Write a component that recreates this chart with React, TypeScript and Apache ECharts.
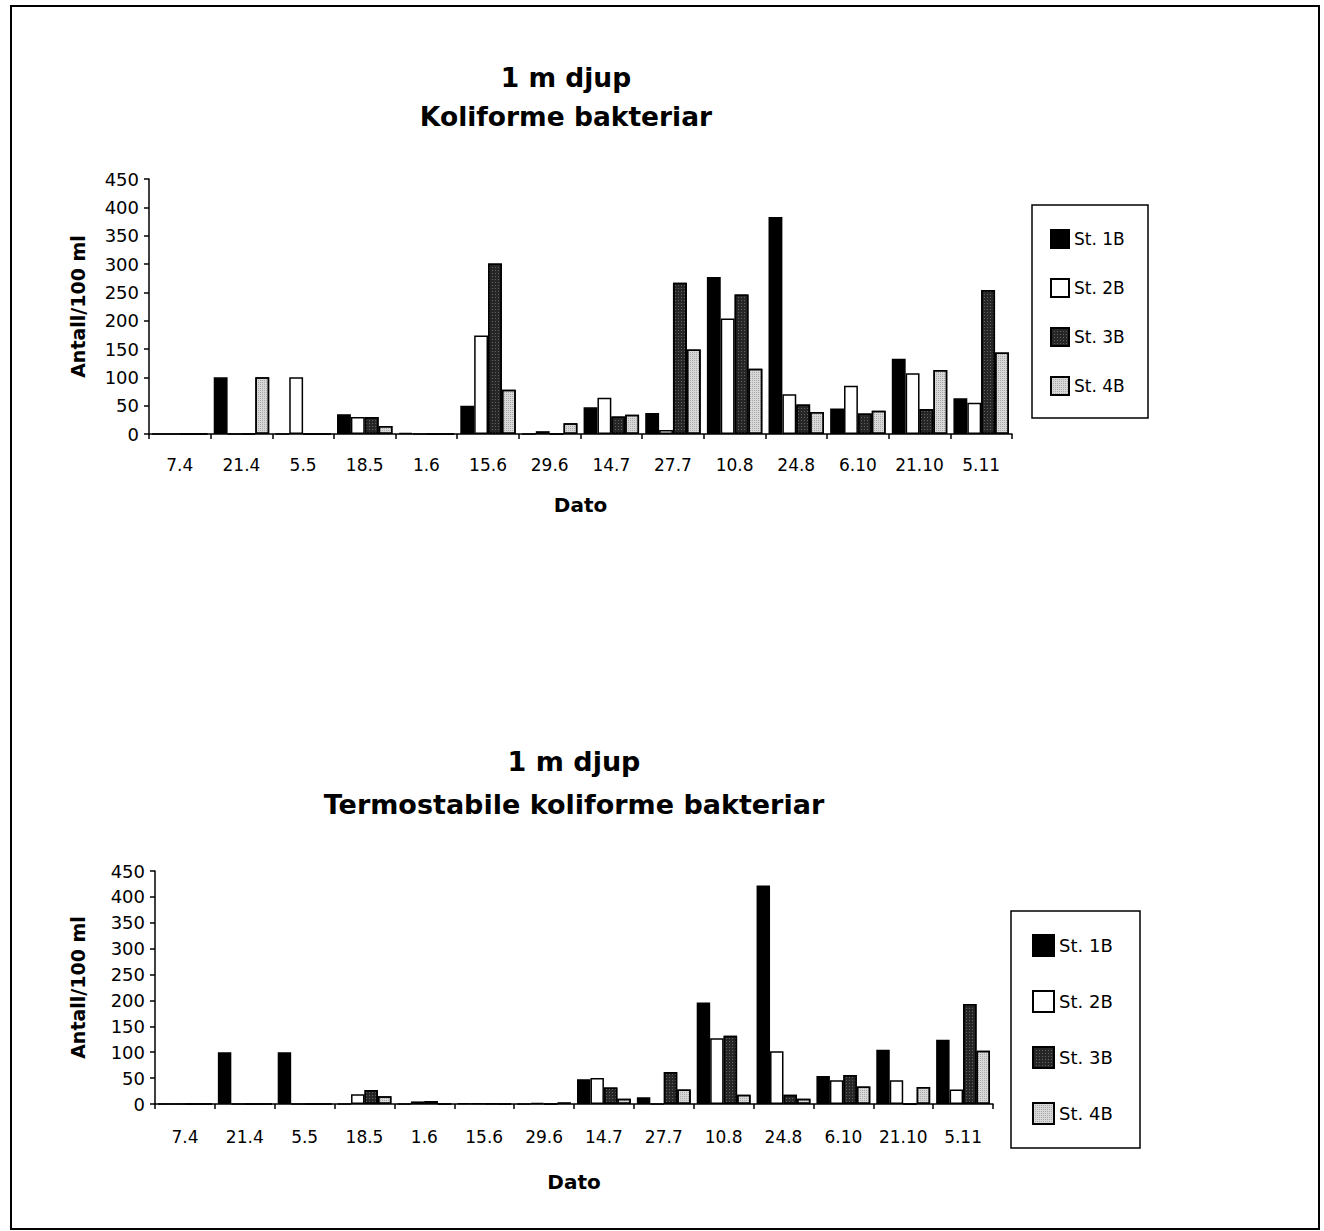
import React, { useEffect, useRef } from "react";
import * as echarts from "echarts";

const categories = ["7.4", "21.4", "5.5", "18.5", "1.6", "15.6", "29.6", "14.7", "27.7", "10.8", "24.8", "6.10", "21.10", "5.11"];
const seriesNames = ["St. 1B", "St. 2B", "St. 3B", "St. 4B"];
const yTicks = [0, 50, 100, 150, 200, 250, 300, 350, 400, 450];

// Koliforme bakteriar (1 m djup)
const koli1B = [0, 100, 0, 35, 2, 50, 0, 47, 37, 277, 383, 45, 133, 63];
const koli2B = [0, 0, 100, 30, 0, 174, 5, 64, 7, 204, 70, 85, 107, 55];
const koli3B = [0, 0, 0, 30, 0, 301, 0, 31, 267, 246, 52, 36, 44, 254];
const koli4B = [0, 100, 0, 14, 0, 78, 19, 34, 149, 115, 39, 41, 113, 144];

// Termostabile koliforme bakteriar (1 m djup)
const termo1B = [0, 100, 100, 0, 0, 1, 0, 48, 13, 196, 422, 54, 105, 124];
const termo2B = [0, 0, 0, 19, 5, 1, 2, 50, 0, 127, 102, 46, 46, 28];
const termo3B = [0, 0, 0, 27, 6, 1, 0, 32, 62, 132, 18, 56, 0, 193];
const termo4B = [0, 0, 0, 15, 0, 0, 3, 10, 28, 18, 10, 34, 33, 103];

const fills = ["#000000", "#ffffff", "#262626", "#d8d8d8"];
const decals: any[] = [
  null,
  null,
  { symbol: "rect", symbolSize: 1, color: "rgba(255,255,255,0.28)", dashArrayX: [1, 2], dashArrayY: [1, 2] },
  { symbol: "rect", symbolSize: 1, color: "rgba(0,0,0,0.22)", dashArrayX: [1, 1], dashArrayY: [1, 1] },
];
const FONT = "DejaVu Sans";

export default function App() {
  const ref = useRef<HTMLDivElement>(null);
  useEffect(() => {
    if (!ref.current) return;
    const chart = echarts.init(ref.current, null, { renderer: "svg" });
    const makeSeries = (data: number[][], gi: number) =>
      data.map((d, i) => {
        const itemStyle: any = { color: fills[i], borderColor: "#000", borderWidth: 1.5 };
        if (decals[i]) itemStyle.decal = decals[i];
        return {
          type: "bar",
          name: seriesNames[i],
          xAxisIndex: gi,
          yAxisIndex: gi,
          data: d,
          barGap: "0%",
          barCategoryGap: "10%",
          itemStyle,
        };
      });
    const xAxisBase = (gi: number, nameGap: number, margin: number) => ({
      type: "category",
      gridIndex: gi,
      data: categories,
      name: "Dato",
      nameLocation: "middle",
      nameGap,
      nameTextStyle: { fontFamily: FONT, fontWeight: "bold", fontSize: 20, color: "#000" },
      axisLine: { lineStyle: { color: "#000", width: 1.5 } },
      axisTick: { show: true, interval: 0, length: 5, lineStyle: { color: "#000", width: 1.5 } },
      axisLabel: { interval: 0, fontFamily: FONT, fontSize: 17, color: "#000", margin },
      splitLine: { show: false },
    });
    const yAxisBase = (gi: number, nameGap: number) => ({
      type: "value",
      gridIndex: gi,
      min: yTicks[0],
      max: yTicks[yTicks.length - 1],
      interval: yTicks[1] - yTicks[0],
      name: "Antall/100 ml",
      nameLocation: "middle",
      nameRotate: 90,
      nameGap,
      nameTextStyle: { fontFamily: FONT, fontWeight: "bold", fontSize: 19, color: "#000" },
      axisLine: { show: true, lineStyle: { color: "#000", width: 1.5 } },
      axisTick: { show: true, length: 5, lineStyle: { color: "#000", width: 1.5 } },
      axisLabel: { fontFamily: FONT, fontSize: 18, color: "#000", margin: 10 },
      splitLine: { show: false },
    });
    chart.setOption({
      animation: false,
      backgroundColor: "#fff",
      title: [
        {
          text: "1 m djup\nKoliforme bakteriar",
          left: 566,
          top: 58,
          textAlign: "center",
          padding: 0,
          textStyle: { fontFamily: FONT, fontWeight: "bold", fontSize: 26.5, lineHeight: 39, color: "#000" },
        },
        {
          text: "1 m djup\nTermostabile koliforme bakteriar",
          left: 574,
          top: 740,
          textAlign: "center",
          padding: 0,
          textStyle: { fontFamily: FONT, fontWeight: "bold", fontSize: 27, lineHeight: 43, color: "#000" },
        },
      ],
      legend: [
        {
          data: seriesNames,
          orient: "vertical",
          left: 1050,
          top: 229,
          padding: 0,
          itemWidth: 18,
          itemHeight: 18,
          itemGap: 29,
          icon: "rect",
          textStyle: { fontFamily: FONT, fontSize: 17, color: "#000" },
        },
        {
          data: seriesNames,
          orient: "vertical",
          left: 1032,
          top: 934,
          padding: 0,
          itemWidth: 21,
          itemHeight: 21,
          itemGap: 33,
          icon: "rect",
          textStyle: { fontFamily: FONT, fontSize: 18, color: "#000" },
        },
      ],
      grid: [
        { left: 149, top: 179, width: 863, height: 255 },
        { left: 155, top: 871, width: 838, height: 233 },
      ],
      xAxis: [xAxisBase(0, 61, 22), xAxisBase(1, 68, 24)],
      yAxis: [yAxisBase(0, 62), yAxisBase(1, 68)],
      series: [
        ...makeSeries([koli1B, koli2B, koli3B, koli4B], 0),
        ...makeSeries([termo1B, termo2B, termo3B, termo4B], 1),
      ],
      graphic: [
        {
          type: "rect",
          shape: { x: 11, y: 6, width: 1308, height: 1223 },
          style: { fill: "none", stroke: "#000", lineWidth: 2 },
          silent: true,
        },
        {
          type: "rect",
          shape: { x: 1032, y: 205, width: 116, height: 213 },
          style: { fill: "none", stroke: "#000", lineWidth: 1.5 },
          silent: true,
        },
        {
          type: "rect",
          shape: { x: 1011, y: 911, width: 129, height: 237 },
          style: { fill: "none", stroke: "#000", lineWidth: 1.5 },
          silent: true,
        },
      ],
    });
    return () => chart.dispose();
  }, []);
  return (
    <div
      ref={ref}
      style={{ position: "absolute", left: 0, top: 0, width: 1324, height: 1231, background: "#fff" }}
    />
  );
}
